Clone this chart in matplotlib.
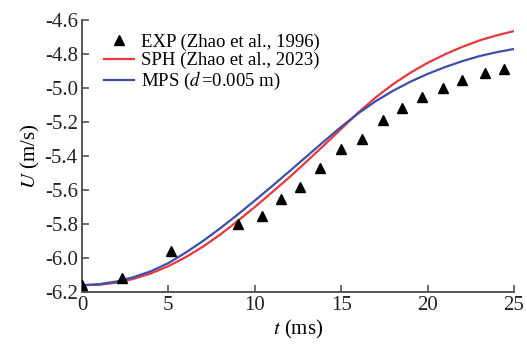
import numpy as np
import matplotlib
matplotlib.use("Agg")
import matplotlib.pyplot as plt
from matplotlib import rcParams

config = {
    "font.family": "serif",
    "font.serif": ["Liberation Serif", "DejaVu Serif"],
    "mathtext.fontset": "stix",
    "font.size": 15,
    "axes.unicode_minus": True,
}
rcParams.update(config)

# experiment (Zhao et al., 1996)
exp_t = [0.0, 2.3, 5.15, 9.0, 10.4, 11.5, 12.6, 13.8, 15.0, 16.2, 17.4,
         18.5, 19.7, 20.9, 22.0, 23.3, 24.4]
exp_u = [-6.16, -6.12, -5.96, -5.80, -5.75, -5.65, -5.58, -5.47, -5.36,
         -5.30, -5.19, -5.12, -5.05, -5.00, -4.95, -4.91, -4.89]

# simulations, read every 1 ms
sim_t = list(range(0, 26))
sph_u = [-6.160, -6.157, -6.145, -6.122, -6.090, -6.048, -5.995, -5.933,
         -5.862, -5.783, -5.700, -5.613, -5.525, -5.432, -5.337, -5.240,
         -5.143, -5.055, -4.977, -4.910, -4.852, -4.802, -4.758, -4.720,
         -4.690, -4.665]
mps_u = [-6.160, -6.154, -6.138, -6.112, -6.077, -6.030, -5.968, -5.900,
         -5.825, -5.745, -5.662, -5.577, -5.490, -5.402, -5.314, -5.228,
         -5.148, -5.077, -5.016, -4.963, -4.917, -4.877, -4.842, -4.812,
         -4.789, -4.770]

fig = plt.figure(figsize=(5.27, 3.46), dpi=100)
ax = fig.add_axes([0.1556, 0.156, 0.8197, 0.786])

ax.plot(exp_t, exp_u, linestyle="none", marker="^", color="black",
        markersize=6.5, label="EXP (Zhao et al., 1996)", zorder=3)
ax.plot(sim_t, sph_u, color="#e8383a", linewidth=1.6,
        label="SPH (Zhao et al., 2023)")
ax.plot(sim_t, mps_u, color="#3d4fae", linewidth=1.6,
        label="MPS ($d\\,$=0.005 m)")

ax.set_xlim(0, 25)
ax.set_ylim(-6.2, -4.6)
ax.set_xticks([0, 5, 10, 15, 20, 25])
ax.set_yticks(np.arange(-6.2, -4.59, 0.2))
ax.set_yticklabels(["%.1f" % v for v in np.arange(-6.2, -4.59, 0.2)])

for side in ["top", "right"]:
    ax.spines[side].set_visible(False)
for side in ["left", "bottom"]:
    ax.spines[side].set_color("#555555")
    ax.spines[side].set_linewidth(1.4)
ax.tick_params(direction="in", length=5, width=1.2, color="#555555",
               labelcolor="#222222", labelsize=15, pad=3)

ax.set_xlabel("$t$ (ms)", fontsize=15, labelpad=2)
ax.set_ylabel("$U$ (m/s)", fontsize=15, labelpad=2)

ax.legend(loc="upper left", bbox_to_anchor=(0.05, 0.95), frameon=False,
          fontsize=13.5, handlelength=1.6, handletextpad=0.4,
          labelspacing=0.05, borderpad=0, borderaxespad=0)

fig.savefig("out.png", dpi=100)
